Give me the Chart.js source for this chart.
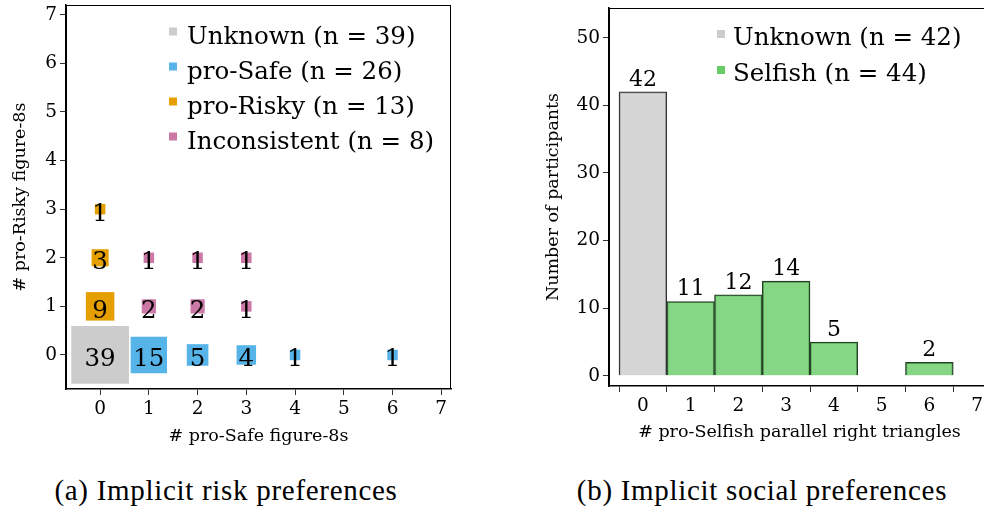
<!DOCTYPE html>
<html>
<head>
<meta charset="utf-8">
<script src="https://cdn.jsdelivr.net/npm/chart.js@4.4.1/dist/chart.umd.min.js"></script>
<style>
  html, body { margin: 0; padding: 0; background: #fff; overflow: hidden; }
  body { width: 984px; height: 512px; position: relative; }
  canvas { position: absolute; top: 0; }
  #riskChart { left: 0; }
  #socialChart { left: 530px; }
  .caption {
    position: absolute; top: 474px; width: 460px; text-align: center;
    font-family: 'Liberation Serif', serif; font-size: 29px; letter-spacing: 0.7px; color: #000;
  }
</style>
</head>
<body>
<canvas id="riskChart" width="470" height="450"></canvas>
<canvas id="socialChart" width="460" height="450"></canvas>
<div class="caption" style="left:-4px">(a) Implicit risk preferences</div>
<div class="caption" style="left:532px">(b) Implicit social preferences</div>
<script>
// ---- (a) risk preferences: x = # pro-Safe, y = # pro-Risky, n = participants
const riskGroups = ["Unknown", "pro-Safe", "pro-Risky", "Inconsistent"];
const riskColors = ["#cccccc", "#56b4e9", "#e69f00", "#cc79a7"];

const unknownSafe = [0];
const unknownRisky = [0];
const unknownCount = [39];

const proSafeSafe = [1, 2, 3, 4, 6];
const proSafeRisky = [0, 0, 0, 0, 0];
const proSafeCount = [15, 5, 4, 1, 1];

const proRiskySafe = [0, 0, 0];
const proRiskyRisky = [1, 2, 3];
const proRiskyCount = [9, 3, 1];

const inconsSafe = [1, 2, 3, 1, 2, 3];
const inconsRisky = [1, 1, 1, 2, 2, 2];
const inconsCount = [2, 2, 1, 1, 1, 1];

const riskXTicks = [0, 1, 2, 3, 4, 5, 6, 7];
const riskYTicks = [0, 1, 2, 3, 4, 5, 6, 7];

// ---- (b) social preferences: # pro-Selfish triangles -> participants
const socialGroups = ["Unknown", "Selfish"];
const socialColors = ["#cccccc", "#66cc66"];
const unknownSelfishX = [0];
const unknownSelfishCount = [42];
const selfishX = [1, 2, 3, 4, 6];
const selfishCount = [11, 12, 14, 5, 2];
const socialXTicks = [0, 1, 2, 3, 4, 5, 6, 7];
const socialYTicks = [0, 10, 20, 30, 40, 50];

Chart.defaults.font.family = "'DejaVu Serif', serif";
Chart.defaults.color = "#000";
Chart.defaults.animation = false;

const sum = arr => arr.reduce((a, b) => a + b, 0);
const points = (xs, ys, ns) => xs.map((x, i) => ({ x: x, y: ys[i], n: ns[i] }));
const toTicks = vals => () => vals.map(v => ({ value: v }));

// box around the plot area
const frame = {
    id: "frame",
    beforeDatasetsDraw(chart) {
        const { ctx, chartArea: a } = chart;
        ctx.save();
        ctx.strokeStyle = "#000";
        ctx.lineWidth = 1;
        ctx.strokeRect(a.left + 0.5, a.top + 0.5, a.width - 1, a.height - 1);
        ctx.restore();
    }
};

// legend with small squares drawn inside the plot
const boxLegend = {
    id: "boxLegend",
    afterDraw(chart, args, opts) {
        const ctx = chart.ctx;
        ctx.save();
        ctx.font = opts.font;
        ctx.textBaseline = "alphabetic";
        chart.data.datasets.forEach((ds, i) => {
            const cy = opts.y + i * opts.spacing;
            ctx.fillStyle = ds.legendColor;
            ctx.fillRect(opts.x, cy - opts.box / 2, opts.box, opts.box);
            ctx.fillStyle = "#000";
            ctx.fillText(ds.label, opts.x + opts.gap, cy + opts.baseline);
        });
        ctx.restore();
    }
};

// count written on each mark
const countLabels = {
    id: "countLabels",
    afterDatasetsDraw(chart, args, opts) {
        const ctx = chart.ctx;
        ctx.save();
        ctx.font = opts.font;
        ctx.fillStyle = "#000";
        ctx.textAlign = "center";
        ctx.textBaseline = "alphabetic";
        chart.data.datasets.forEach((ds, di) => {
            chart.getDatasetMeta(di).data.forEach((el, i) => {
                const raw = ds.data[i];
                const v = raw.n !== undefined ? raw.n : raw.y;
                ctx.fillText(String(v), el.x, el.y + opts.dy);
            });
        });
        ctx.restore();
    }
};

function axis(opts) {
    return Object.assign({
        type: "linear",
        grid: { drawOnChartArea: false, drawTicks: true, tickLength: 6, color: "#333", lineWidth: 1 },
        border: { display: true, color: "#000", width: 1.6 },
        ticks: { font: { size: 18.5 }, padding: 3, includeBounds: false, maxRotation: 0 }
    }, opts);
}

const riskSets = [
    [unknownSafe, unknownRisky, unknownCount],
    [proSafeSafe, proSafeRisky, proSafeCount],
    [proRiskySafe, proRiskyRisky, proRiskyCount],
    [inconsSafe, inconsRisky, inconsCount]
].map((g, i) => ({
    label: `${riskGroups[i]} (n = ${sum(g[2])})`,
    data: points(g[0], g[1], g[2]),
    pointStyle: "rect",
    backgroundColor: riskColors[i],
    legendColor: riskColors[i],
    borderWidth: 0,
    pointRadius: c => (9 * Math.sqrt(c.raw.n) + 1.5) / Math.SQRT2
}));

new Chart(document.getElementById("riskChart"), {
    type: "scatter",
    data: { datasets: riskSets },
    options: {
        responsive: false,
        devicePixelRatio: 1,
        events: [],
        layout: { autoPadding: false, padding: { top: 5, right: 19, left: 0, bottom: 0 } },
        plugins: {
            legend: { display: false },
            tooltip: { enabled: false },
            boxLegend: { x: 169, y: 31.5, spacing: 35, box: 8, gap: 18, baseline: 12, font: "24.5px 'DejaVu Serif'" },
            countLabels: { dy: 11.5, font: "24.5px 'DejaVu Serif'" }
        },
        scales: {
            x: axis({
                min: -0.7, max: 7.2,
                afterBuildTicks: s => { s.ticks = toTicks(riskXTicks)(); },
                afterFit: s => { s.height = 61; s.paddingLeft = 0; s.paddingRight = 0; },
                title: { display: true, text: "# pro-Safe figure-8s", font: { size: 17.5 }, padding: { top: 0, bottom: 3 } }
            }),
            y: axis({
                min: -0.7, max: 7.2,
                afterBuildTicks: s => { s.ticks = toTicks(riskYTicks)(); },
                afterFit: s => { s.width = 66; s.paddingTop = 0; s.paddingBottom = 0; },
                title: { display: true, text: "# pro-Risky figure-8s", font: { size: 17.5 }, padding: { top: 10, bottom: 0 } }
            })
        }
    },
    plugins: [frame, countLabels, boxLegend]
});

const hexToRgb = c => c.replace("#", "").match(/../g).map(h => parseInt(h, 16));
const rgba = (c, a) => `rgba(${hexToRgb(c).join(",")},${a})`;

new Chart(document.getElementById("socialChart"), {
    type: "bar",
    data: {
        datasets: [
            {
                label: `${socialGroups[0]} (n = ${sum(unknownSelfishCount)})`,
                data: unknownSelfishX.map((x, i) => ({ x: x, y: unknownSelfishCount[i] })),
                backgroundColor: rgba(socialColors[0], 0.8),
                borderColor: "#333",
                legendColor: socialColors[0]
            },
            {
                label: `${socialGroups[1]} (n = ${sum(selfishCount)})`,
                data: selfishX.map((x, i) => ({ x: x, y: selfishCount[i] })),
                backgroundColor: rgba(socialColors[1], 0.8),
                borderColor: "#263f27",
                legendColor: socialColors[1]
            }
        ]
    },
    options: {
        responsive: false,
        devicePixelRatio: 1,
        events: [],
        datasets: { bar: { grouped: false, barPercentage: 1, categoryPercentage: 1, borderWidth: 1.3 } },
        layout: { autoPadding: false, padding: { top: 8, right: 0, left: 0, bottom: 0 } },
        plugins: {
            legend: { display: false },
            tooltip: { enabled: false },
            boxLegend: { x: 187, y: 34, spacing: 36, box: 8, gap: 16, baseline: 11, font: "24.5px 'DejaVu Serif'" },
            countLabels: { dy: -6, font: "22px 'DejaVu Serif'" }
        },
        scales: {
            x: axis({
                min: -0.71, max: 7.27, offset: false,
                afterBuildTicks: s => { s.ticks = toTicks(socialXTicks)(); },
                afterFit: s => { s.height = 64; s.paddingLeft = 0; s.paddingRight = 0; },
                title: { display: true, text: "# pro-Selfish parallel right triangles", font: { size: 17.5 }, padding: { top: 0, bottom: 7 } }
            }),
            y: axis({
                min: -1.5, max: 54.4,
                afterBuildTicks: s => { s.ticks = toTicks(socialYTicks)(); },
                afterFit: s => { s.width = 79; s.paddingTop = 0; s.paddingBottom = 0; },
                title: { display: true, text: "Number of participants", font: { size: 17.5 }, padding: { top: 13, bottom: 0 } }
            })
        }
    },
    plugins: [frame, countLabels, boxLegend]
});
</script>
</body>
</html>
